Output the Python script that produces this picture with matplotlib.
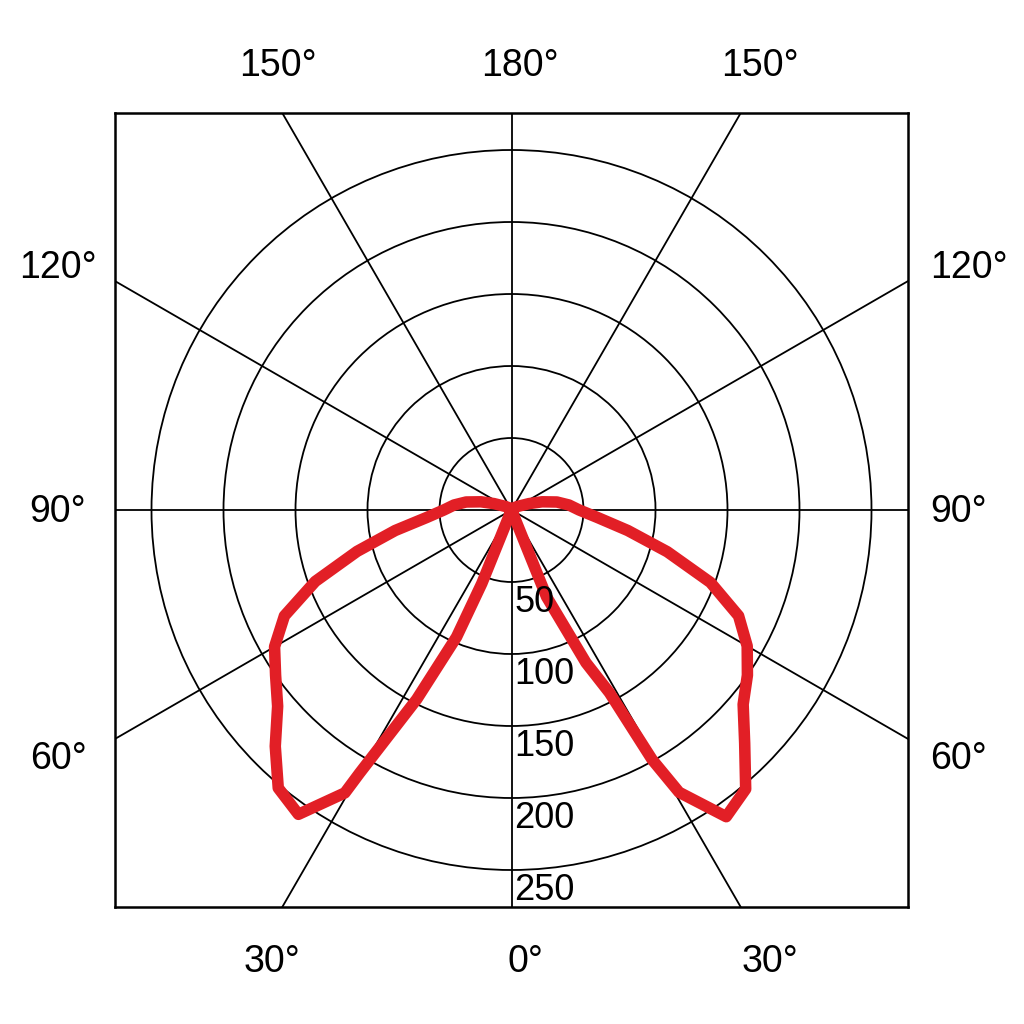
import numpy as np
import matplotlib
matplotlib.use("Agg")
import matplotlib.pyplot as plt
from matplotlib.patches import Circle

plt.rcParams["font.family"] = ["Liberation Sans", "DejaVu Sans"]

# intensity (cd/klm) vs gamma angle
left_angles = [0, 22, 23.4, 26.6, 30, 30.5, 35, 40, 45, 50, 55, 60, 65, 70, 75, 80, 85, 90, 95, 100, 105, 110, 120, 135, 180]
left_values = [0, 55, 96, 147, 211, 228, 258, 252, 232, 212, 200, 190, 174, 145, 111, 82, 59, 47, 40, 32, 22, 13, 5, 2, 0]

right_angles = [0, 22, 26, 28.2, 29.4, 30.7, 35, 40, 45, 50, 55, 60, 65, 70, 75, 80, 85, 90, 95, 100, 105, 110, 120, 135, 180]
right_values = [0, 65, 118, 144, 199, 228, 260, 253, 229, 210, 200, 189, 174, 147, 112, 82, 60, 47, 40, 32, 22, 13, 5, 2, 0]

rings = [50, 100, 150, 200, 250]
ring_labels = ["50", "100", "150", "200", "250"]
spoke_angles = list(range(0, 360, 30))

W = 1024
fig = plt.figure(figsize=(10.24, 10.24), dpi=100)
fig.patch.set_facecolor("white")

px = 1.44  # pixels per unit
cx, cy = 511.5, 510
left_px, right_px, top_px, bot_px = 115, 908, 113, 907
ax = fig.add_axes([left_px / W, 1 - bot_px / W, (right_px - left_px) / W, (bot_px - top_px) / W])
ax.set_xlim((left_px - cx) / px, (right_px - cx) / px)
ax.set_ylim((cy - bot_px) / px, (cy - top_px) / px)
ax.set_xticks([])
ax.set_yticks([])
for s in ax.spines.values():
    s.set_linewidth(1.8)
    s.set_color("black")

# grid
for r in rings:
    ax.add_patch(Circle((0, 0), r, fill=False, ec="black", lw=1.3, zorder=1))
R = 600
for a in spoke_angles:
    t = np.radians(a)
    ax.plot([0, R * np.sin(t)], [0, -R * np.cos(t)], color="black", lw=1.3, zorder=1)

# curves
red = "#e21f26"
la = np.radians(left_angles)
lv = np.array(left_values)
ax.plot(-lv * np.sin(la), -lv * np.cos(la), color=red, lw=8.3, zorder=3,
        solid_joinstyle="round", solid_capstyle="round")
ra = np.radians(right_angles)
rv = np.array(right_values)
ax.plot(rv * np.sin(ra), -rv * np.cos(ra), color=red, lw=8.3, zorder=3,
        solid_joinstyle="round", solid_capstyle="round")

# ring labels
for r, lab in zip(rings, ring_labels):
    ax.text(3 / px, -(r + 30 / px), lab, fontsize=26, ha="left", va="baseline", zorder=4)

# angle labels (figure pixel positions)
fs = 27
def ftext(x, y, s, ha="center"):
    fig.text(x / W, 1 - y / W, s, fontsize=fs, ha=ha, va="baseline")

ftext(278, 76, "150°")
ftext(520, 76, "180°")
ftext(760, 76, "150°")
ftext(272, 972, "30°")
ftext(525, 972, "0°")
ftext(770, 972, "30°")
ftext(58, 278, "120°")
ftext(58, 522, "90°")
ftext(58, 769, "60°")
ftext(930, 278, "120°", ha="left")
ftext(930, 522, "90°", ha="left")
ftext(930, 769, "60°", ha="left")

fig.savefig("out.png", dpi=100)
